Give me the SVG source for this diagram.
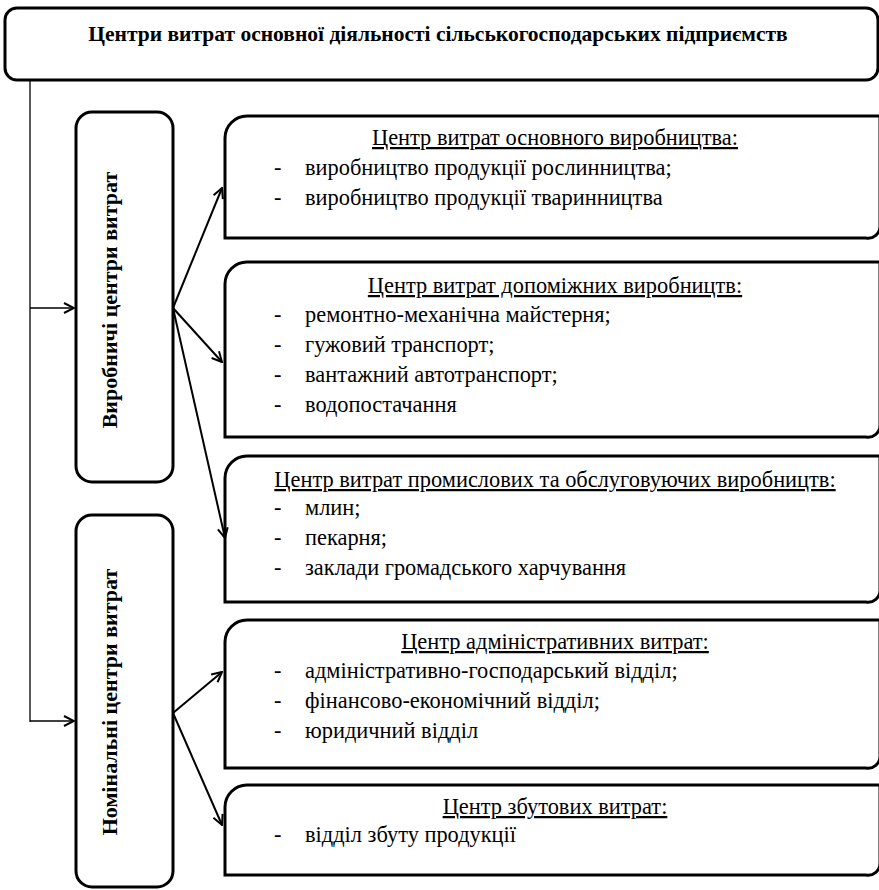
<svg xmlns="http://www.w3.org/2000/svg" width="879" height="890" viewBox="0 0 879 890">
<style>
.box{fill:#fff;stroke:#000;stroke-width:3}
text{font-family:'Liberation Serif','Times New Roman',serif;font-size:22.4px;fill:#000}
.b{font-weight:bold}
.ttl{font-size:21.5px}
.v{font-size:22px}
.h{text-decoration:underline}
.ln{fill:none;stroke:#000;stroke-width:2}
.thin{fill:none;stroke:#000;stroke-width:1.3}
</style>
<defs>
<marker id="ah" viewBox="0 0 12 12" refX="11" refY="6" markerWidth="12" markerHeight="12" markerUnits="userSpaceOnUse" orient="auto">
<path d="M1,1 L11,6 L1,11" fill="none" stroke="#000" stroke-width="2"/>
</marker>
</defs>
<g id="top">
<rect class="box" x="5" y="8" width="873" height="72" rx="12"/>
<text class="b ttl" x="438" y="41" text-anchor="middle">Центри витрат основної діяльності сільськогосподарських підприємств</text>
</g>
<g id="left1">
<rect class="box" x="76" y="112" width="97" height="370" rx="16"/>
<text class="b v" transform="translate(117,300) rotate(-90)" text-anchor="middle">Виробничі центри витрат</text>
</g>
<g id="left2">
<rect class="box" x="76" y="515" width="97" height="372" rx="16"/>
<text class="b v" transform="translate(117,702) rotate(-90)" text-anchor="middle">Номінальні центри витрат</text>
</g>
<g id="boxA">
<path class="box" d="M225,138 A22,22 0 0 1 247,116 H880 V226 A12,12 0 0 1 866,238 H225 Z"/>
<text class="h" x="555" y="145" text-anchor="middle">Центр витрат основного виробництва:</text>
<text x="274" y="175">-</text><text x="305" y="175">виробництво продукції рослинництва;</text>
<text x="274" y="205">-</text><text x="305" y="205">виробництво продукції тваринництва</text>
</g>
<g id="boxB">
<path class="box" d="M225,284 A22,22 0 0 1 247,262 H880 V425 A12,12 0 0 1 866,437 H225 Z"/>
<text class="h" x="555" y="293" text-anchor="middle">Центр витрат допоміжних виробництв:</text>
<text x="274" y="322">-</text><text x="305" y="322">ремонтно-механічна майстерня;</text>
<text x="274" y="352">-</text><text x="305" y="352">гужовий транспорт;</text>
<text x="274" y="382">-</text><text x="305" y="382">вантажний автотранспорт;</text>
<text x="274" y="412">-</text><text x="305" y="412">водопостачання</text>
</g>
<g id="boxC">
<path class="box" d="M225,478 A22,22 0 0 1 247,456 H880 V590 A12,12 0 0 1 866,602 H225 Z"/>
<text class="h" x="555" y="487" text-anchor="middle">Центр витрат промислових та обслуговуючих виробництв:</text>
<text x="274" y="515">-</text><text x="305" y="515">млин;</text>
<text x="274" y="545">-</text><text x="305" y="545">пекарня;</text>
<text x="274" y="575">-</text><text x="305" y="575">заклади громадського харчування</text>
</g>
<g id="boxD">
<path class="box" d="M225,642 A22,22 0 0 1 247,620 H880 V756 A12,12 0 0 1 866,768 H225 Z"/>
<text class="h" x="555" y="649" text-anchor="middle">Центр адміністративних витрат:</text>
<text x="274" y="678">-</text><text x="305" y="678">адміністративно-господарський відділ;</text>
<text x="274" y="708">-</text><text x="305" y="708">фінансово-економічний відділ;</text>
<text x="274" y="738">-</text><text x="305" y="738">юридичний відділ</text>
</g>
<g id="boxE">
<path class="box" d="M225,807 A22,22 0 0 1 247,785 H880 V863 A12,12 0 0 1 866,875 H225 Z"/>
<text class="h" x="555" y="814" text-anchor="middle">Центр збутових витрат:</text>
<text x="274" y="842">-</text><text x="305" y="842">відділ збуту продукції</text>
</g>
<g id="connectors">
<polyline class="thin" points="30,80 30,722"/>
<line class="thin" x1="30" y1="308" x2="74" y2="308" marker-end="url(#ah)"/>
<line class="thin" x1="30" y1="721" x2="74" y2="721" marker-end="url(#ah)"/>
<line class="ln" x1="173" y1="308" x2="222" y2="188" marker-end="url(#ah)"/>
<line class="ln" x1="173" y1="308" x2="222" y2="362" marker-end="url(#ah)"/>
<line class="ln" x1="173" y1="308" x2="225" y2="538" marker-end="url(#ah)"/>
<line class="ln" x1="173" y1="713" x2="222" y2="672" marker-end="url(#ah)"/>
<line class="ln" x1="173" y1="713" x2="222" y2="825" marker-end="url(#ah)"/>
</g>
</svg>
